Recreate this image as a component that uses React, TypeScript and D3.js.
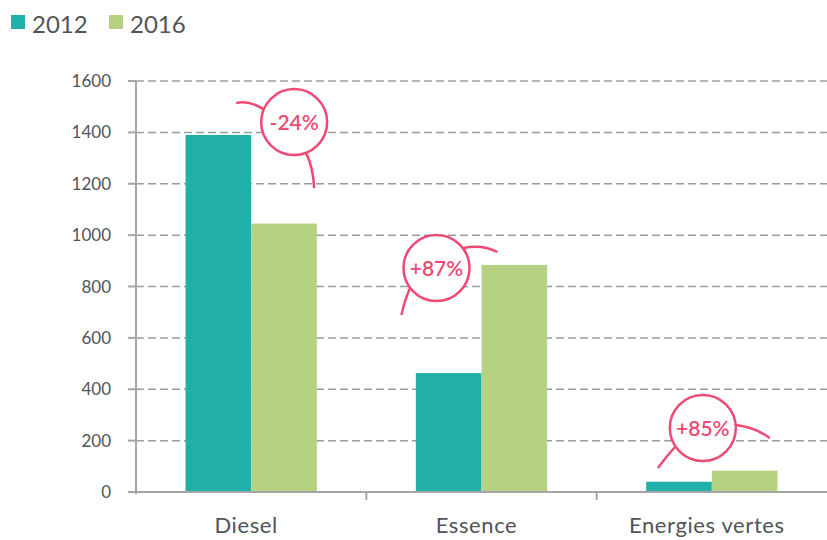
import React from 'react';
import * as d3 from 'd3';

const categories = ['Diesel', 'Essence', 'Energies vertes'];
const years = ['2012', '2016'];
const values2012 = [1390, 463, 40];
const values2016 = [1045, 884, 83];
const yTicks = [0, 200, 400, 600, 800, 1000, 1200, 1400, 1600];

// evolution bubbles: label, value level of the bubble centre, x shift from the group centre
const changeLabels = ['-24%', '+87%', '+85%'];
const changeLevels = [1440, 872, 249];
const changeShift = [43, -45, -9];

// little curved tails on each bubble, relative to its centre
const tails = [
  ['M-58,-19 Q-45,-22 -31,-13', 'M12,31 Q19,45 20,66'],
  ['M-26,19 Q-32,32 -35,47', 'M27,-20 Q45,-24 61,-16'],
  ['M-27,18 Q-36,28 -45,40', 'M33,-3 Q52,-1 67,10'],
];

const W = 827, H = 540;
const left = 136, right = 827, top = 81, bottom = 492;
const teal = '#20b0a9';
const green = '#b5d283';
const pink = '#ee4a73';
const grey = '#a3a5a7';
const font = 'Lato, "Open Sans", sans-serif';

export default function App() {
  const x = d3.scaleBand().domain(categories).range([left, right]);
  const bw = x.bandwidth();
  const x1 = d3.scaleBand().domain(years).range([bw * 0.215, bw * 0.785]);
  const y = d3.scaleLinear().domain([0, 1600]).range([bottom, top]);
  const series = [values2012, values2016];
  const colors = [teal, green];

  return (
    <svg width={W} height={H} style={{ position: 'absolute', left: 0, top: 0, background: '#fff' }}
      fontFamily={font}>
      {/* legend */}
      {years.map((yr, i) => (
        <g key={yr} transform={`translate(${i === 0 ? 11 : 109},15)`}>
          <rect width={14} height={14} fill={colors[i]} />
          <text x={21} y={18} fontSize={24} fill="#4f5457">{yr}</text>
        </g>
      ))}

      {/* grid */}
      {yTicks.filter(t => t > 0).map(t => (
        <line key={t} x1={left} x2={right} y1={y(t)} y2={y(t)}
          stroke="#9a9c9e" strokeWidth={1.5} strokeDasharray="8,4" />
      ))}

      {/* bars */}
      {categories.map((c, ci) => years.map((yr, si) => (
        <rect key={c + yr}
          x={(x(c) as number) + (x1(yr) as number)}
          y={y(series[si][ci])}
          width={x1.bandwidth()}
          height={bottom - y(series[si][ci])}
          fill={colors[si]} />
      )))}

      {/* y axis */}
      <line x1={left} x2={left} y1={top} y2={bottom + 2} stroke={grey} strokeWidth={2} />
      {yTicks.map(t => (
        <g key={t}>
          <line x1={left - 8} x2={left} y1={y(t)} y2={y(t)} stroke={grey} strokeWidth={2} />
          <text x={left - 25} y={y(t) + 6} textAnchor="end" fontSize={17} fill="#4f5457">{t}</text>
        </g>
      ))}

      {/* x axis */}
      <line x1={left - 8} x2={right} y1={bottom} y2={bottom} stroke={grey} strokeWidth={2} />
      {categories.slice(1).map(c => (
        <line key={c} x1={x(c)} x2={x(c)} y1={bottom} y2={bottom + 8} stroke={grey} strokeWidth={2} />
      ))}
      {categories.map(c => (
        <text key={c} x={(x(c) as number) + bw / 2 - 5} y={533} textAnchor="middle"
          fontSize={22} letterSpacing={0.6} fill="#4f5457">{c}</text>
      ))}

      {/* change bubbles */}
      {categories.map((c, i) => {
        const cx = (x(c) as number) + bw / 2 + changeShift[i];
        const cy = y(changeLevels[i]);
        return (
          <g key={c} transform={`translate(${cx},${cy})`}>
            <circle r={33} fill="#fff" stroke={pink} strokeWidth={2.5} />
            {tails[i].map((d, k) => (
              <path key={k} d={d} fill="none" stroke={pink} strokeWidth={2.5} />
            ))}
            <text y={8} textAnchor="middle" fontSize={21} fontWeight={600} fill={pink}>
              {changeLabels[i]}
            </text>
          </g>
        );
      })}
    </svg>
  );
}
